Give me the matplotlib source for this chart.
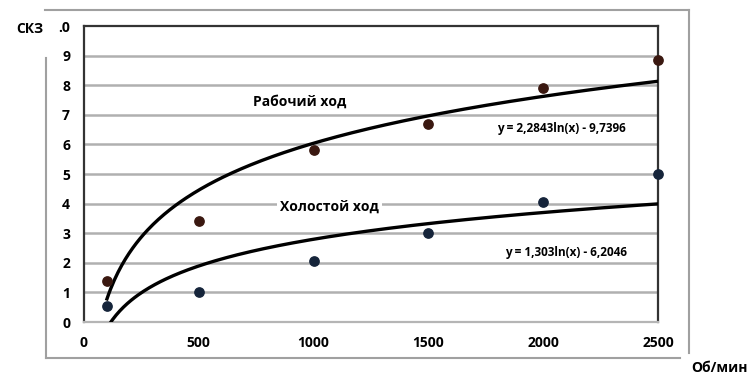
import matplotlib
matplotlib.use("Agg")
import matplotlib.pyplot as plt
from matplotlib.lines import Line2D
import numpy as np

plt.rcParams['font.family'] = ['Open Sans', 'DejaVu Sans']
plt.rcParams['font.weight'] = 'bold'

# data
rpm = [100, 500, 1000, 1500, 2000, 2500]
work_vals = [1.4, 3.4, 5.8, 6.7, 7.9, 8.85]
idle_vals = [0.55, 1.0, 2.05, 3.0, 4.05, 5.0]
# log trend coefficients (y = a ln(x) + b)
work_fit = (2.2843, -9.7396)
idle_fit = (1.303, -6.2046)
yticks = [0, 1, 2, 3, 4, 5, 6, 7, 8, 9, 10]
ytick_labels = ['0', '1', '2', '3', '4', '5', '6', '7', '8', '9', '.0']
xticks = [0, 500, 1000, 1500, 2000, 2500]

fig = plt.figure(figsize=(7.53, 3.81), dpi=100)
ax = fig.add_axes([84/753, 1 - 322/381, (658 - 84)/753, (322 - 26)/381])

ax.set_xlim(0, 2500)
ax.set_ylim(0, 10)
ax.set_yticks(yticks)
ax.set_yticklabels(ytick_labels)
ax.set_xticks(xticks)
ax.set_xticklabels([str(t) for t in xticks])
ax.tick_params(length=0, labelsize=10, pad=10)
ax.tick_params(axis='x', pad=10)

for v in yticks[1:-1]:
    ax.axhline(v, color='#b0b0b0', lw=1.8, zorder=1)

for side in ['left', 'top', 'right']:
    ax.spines[side].set_color('#333333')
    ax.spines[side].set_linewidth(1.6)
ax.spines['bottom'].set_color('#b5b5b5')
ax.spines['bottom'].set_linewidth(1.6)

xs = np.linspace(100, 2500, 300)
ax.plot(xs, work_fit[0]*np.log(xs) + work_fit[1], color='black', lw=2.4, zorder=3)
ax.plot(xs, idle_fit[0]*np.log(xs) + idle_fit[1], color='black', lw=2.4, zorder=3)

ax.scatter(rpm, work_vals, s=45, color='#3a1810', zorder=4, clip_on=False)
ax.scatter(rpm, idle_vals, s=45, color='#15243a', zorder=4, clip_on=False)

box = dict(facecolor='white', edgecolor='none', pad=2)
ax.text(940, 7.45, 'Рабочий ход', ha='center', va='center', fontsize=10, bbox=box, zorder=2)
ax.text(1070, 3.9, 'Холостой ход', ha='center', va='center', fontsize=10, bbox=box, zorder=2)
ax.text(2080, 6.55, 'y = 2,2843ln(x) - 9,7396', ha='center', va='center', fontsize=8.5, bbox=box, zorder=2)
ax.text(2100, 2.35, 'y = 1,303ln(x) - 6,2046', ha='center', va='center', fontsize=8.5, bbox=box, zorder=2)

fig.text(30/753, 1 - 29/381, 'СКЗ', ha='center', va='center', fontsize=10)
fig.text(720/753, 1 - 368/381, 'Об/мин', ha='center', va='center', fontsize=10)

# outer frame of the original chart area
frame = dict(color='#a0a0a0', lw=1.5, transform=fig.transFigure)
fig.add_artist(Line2D([45/753, 689/753], [1 - 10/381, 1 - 10/381], **frame))
fig.add_artist(Line2D([46/753, 46/753], [1 - 58/381, 1 - 358/381], **frame))
fig.add_artist(Line2D([46/753, 680/753], [1 - 358/381, 1 - 358/381], **frame))
fig.add_artist(Line2D([689/753, 689/753], [1 - 10/381, 1 - 353/381], **frame))

fig.savefig('out.png', dpi=100)
